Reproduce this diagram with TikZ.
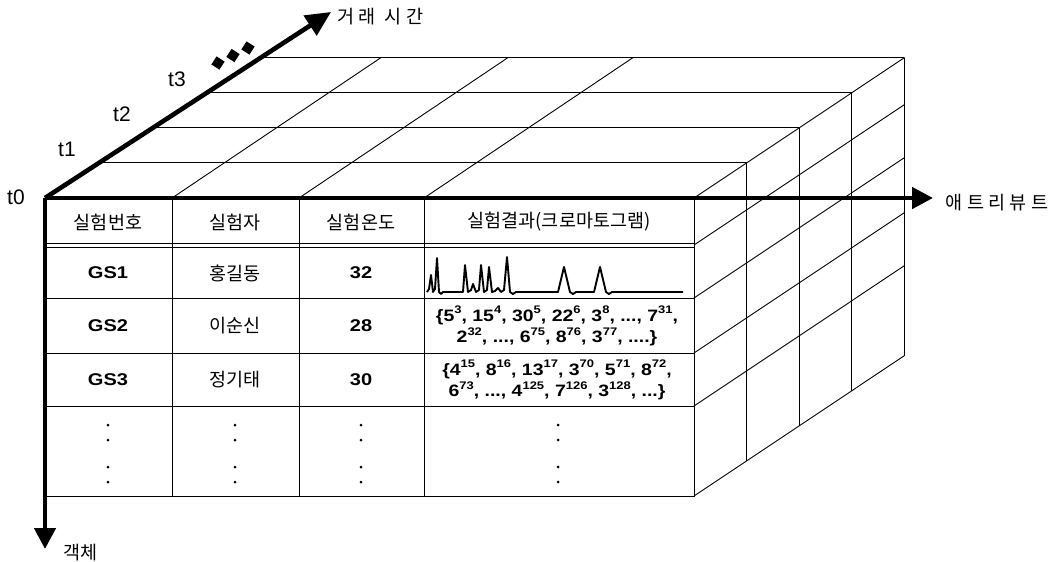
\documentclass[tikz,border=0pt]{standalone}
\usepackage{fontspec}
\setmainfont{Liberation Sans}
\newfontfamily\kr{Noto Sans CJK KR}
\newfontfamily\kra[LetterSpace=24]{Noto Sans CJK KR}
\newfontfamily\latw[FakeStretch=1.18]{Liberation Sans}
\usetikzlibrary{arrows.meta}
\newcommand\sps[1]{\raisebox{0.45em}{\fontsize{11}{11}\selectfont #1}}
\begin{document}
\begin{tikzpicture}[x=1pt,y=-1pt,
  gridline/.style={line width=0.9pt},
  axisline/.style={line width=4.6pt, -{Triangle[length=21pt,width=21pt]}},
  kor/.style={font=\kr\fontsize{18.5}{18.5}\selectfont},
  axlabel/.style={font=\kra\fontsize{18.5}{18.5}\selectfont, anchor=west},
  lat/.style={font=\latw\bfseries\fontsize{17}{17}\selectfont},
  tlab/.style={font=\fontsize{21}{21}\selectfont},
  setx/.style={font=\latw\bfseries\fontsize{16.5}{21.5}\selectfont, align=center},
  chrom/.style={line width=1.9pt, line join=round}]
\useasboundingbox (0,0) rectangle (1058,562);

\coordinate (O) at (45,198);
\coordinate (tipT) at (331,12);
\coordinate (tipA) at (933,198);
\coordinate (tipE) at (45,549);

% top face
\foreach \k in {1,2,3,4} {
  \draw[gridline] ({45+\k*54.1},{198-\k*35.1}) -- ({694+\k*52.6},{198-\k*35.1});
}
\foreach \x in {172,299,424} \draw[gridline] (\x,198) -- ++(209,-140.4);
\draw[gridline] (694,198) -- ++(210.5,-140.4);
% right face
\foreach \k in {1,2,3,4} \draw[gridline] ({694+\k*52.6},{198-\k*35.1}) -- ({694+\k*52.6},{496-\k*35.1});
\foreach \y in {245,298,353,406,496} \draw[gridline] (694,\y) -- ++(210.5,-140.4);

% front face
\draw[gridline] (45,496) -- (694,496) -- (694,198);
\foreach \y in {243,247,298,353,406} \draw[gridline] (45,\y) -- (694,\y);
\foreach \x in {172,299,424} \draw[gridline] (\x,198) -- (\x,496);

% axes
\draw[axisline, -{Triangle[length=25pt,width=23pt]}] (O) -- (tipT);
\draw[axisline] (O) -- (tipA);
\draw[axisline] (O) -- (tipE);

% squares on time axis
\foreach \cx/\cy in {218/63, 233/55.5, 248/48}
  \fill[rotate around={-33:(\cx,\cy)}] (\cx-4.8,\cy-4.8) rectangle (\cx+4.8,\cy+4.8);

% axis labels
\node[axlabel] (lT) at (334,17) {거래 시간};
\node[axlabel] (lA) at (942,203) {애트리뷰트};
\node[font=\kr\fontsize{18.5}{18.5}\selectfont, anchor=west] (lE) at (60,553) {객체};
\node[tlab] (t0) at (16,197) {t0};
\node[tlab] (t1) at (67,149) {t1};
\node[tlab] (t2) at (122,114) {t2};
\node[tlab] (t3) at (177,79) {t3};

% header
\node[kor] (h1) at (108,222) {실험번호};
\node[kor] (h2) at (235,222) {실험자};
\node[kor] (h3) at (361,222) {실험온도};
\node[kor] (h4) at (559,222) {실험결과(크로마토그램)};

% rows
\node[lat] (g1) at (108,273) {GS1};
\node[lat] (g2) at (108,326) {GS2};
\node[lat] (g3) at (108,380) {GS3};
\node[kor] (n1) at (235,273) {홍길동};
\node[kor] (n2) at (235,326) {이순신};
\node[kor] (n3) at (235,380) {정기태};
\node[lat] (c1) at (361,273) {32};
\node[lat] (c2) at (361,326) {28};
\node[lat] (c3) at (361,380) {30};

\node[setx] (s2) at (557,326) {\{5\sps{3}, 15\sps{4}, 30\sps{5}, 22\sps{6}, 3\sps{8}, ..., 7\sps{31},\\
2\sps{32}, ..., 6\sps{75}, 8\sps{76}, 3\sps{77}, ....\}};
\node[setx] (s3) at (557,380) {\{4\sps{15}, 8\sps{16}, 13\sps{17}, 3\sps{70}, 5\sps{71}, 8\sps{72},\\
6\sps{73}, ..., 4\sps{125}, 7\sps{126}, 3\sps{128}, ...\}};

% chromatogram
\draw[chrom] (427,292) -- (429,289) -- (431,275) -- (433,292) -- (435,289) -- (437,258) -- (439,292) -- (441,294) -- (443,292)
 -- (463,292) -- (465,265) -- (468,292) -- (471,290) -- (473,284) -- (476,292) -- (479,290) -- (481,265) -- (484,292)
 -- (487,290) -- (489,267) -- (492,292) -- (495,291) -- (498,288) -- (501,292) -- (504,290) -- (507,257) -- (510,292)
 -- (513,294) -- (516,292) -- (558,292) -- (564,267) -- (570,292) -- (573,294) -- (576,292) -- (594,292) -- (600,267)
 -- (606,292) -- (609,294) -- (612,292) -- (683,292);

% continuation dots
\foreach \x in {108,235,361,558}
  \foreach \y in {425,440,467,482}
    \fill (\x,\y) circle (1.5);
\end{tikzpicture}
\end{document}
